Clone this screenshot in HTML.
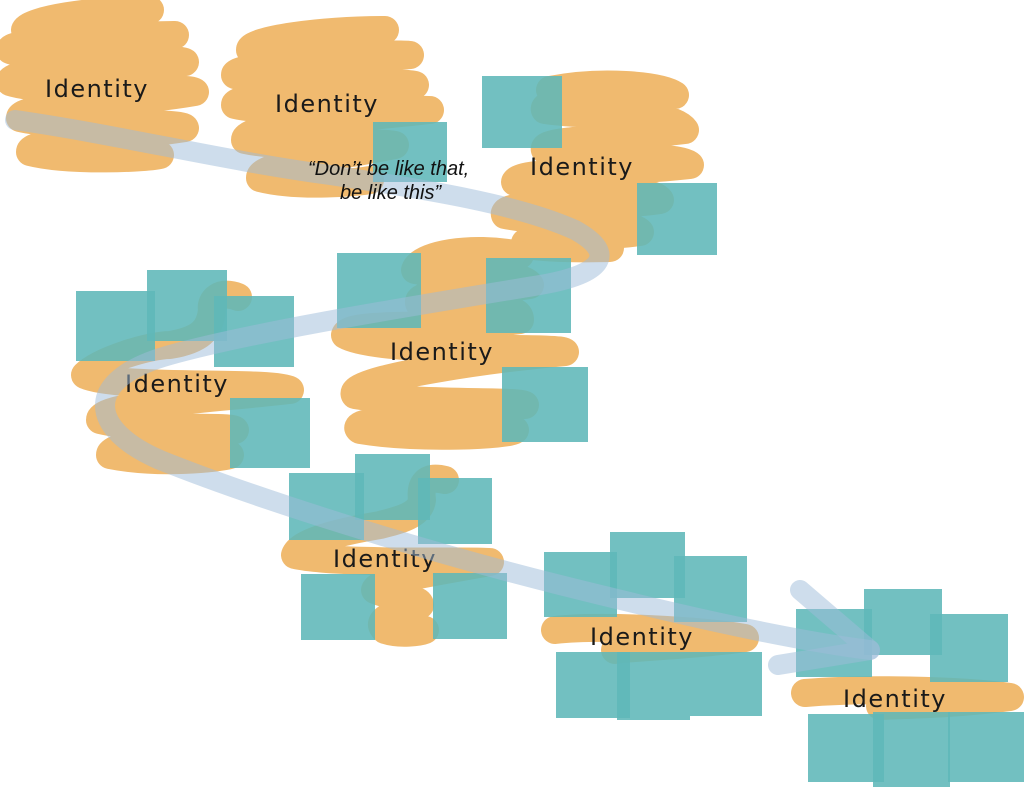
<!DOCTYPE html>
<html><head><meta charset="utf-8"><style>
html,body{margin:0;padding:0;background:#fff;width:1024px;height:787px;overflow:hidden}
svg{display:block}
.o{fill:none;stroke:#F0BA6F;stroke-width:28;stroke-linecap:round;stroke-linejoin:round}
.t{fill:#5FB7B8;fill-opacity:0.88}
.id{font-family:"DejaVu Sans","Liberation Sans",sans-serif;font-size:24px;fill:#1a1a1a;letter-spacing:1.5px}
</style></head><body>
<svg width="1024" height="787" viewBox="0 0 1024 787">
<!-- group1 -->
<path class="o" d="M150,10 C90,10 30,20 25,30 C60,40 140,35 175,35 C120,40 10,40 10,50 C30,60 170,55 185,62 C100,70 10,70 10,82 C50,95 190,85 195,92 C120,105 20,105 20,118 C60,128 180,120 185,128 C120,138 30,140 30,152 C70,162 150,158 160,155"/>
<text class="id" x="45" y="97">Identity</text>
<!-- group2 -->
<path class="o" d="M385,30 C320,30 250,40 250,50 C290,60 390,52 410,55 C330,62 235,65 235,75 C280,88 400,80 415,85 C320,95 235,95 235,105 C280,115 420,108 430,110 C340,120 245,125 245,140 C290,150 380,140 395,145 C320,160 260,165 260,178 C300,188 360,182 370,180"/>
<text class="id" x="275" y="112">Identity</text>
<rect class="t" x="373" y="122" width="74" height="60"/>
<!-- group3 -->
<path class="o" d="M550,90 C600,80 660,85 675,95 C600,100 540,100 545,110 C600,118 670,110 685,130 C600,140 540,140 545,150 C600,158 680,155 690,165 C600,175 520,170 515,182 C560,195 650,185 660,200 C590,210 500,200 505,215 C560,225 630,220 640,232 C580,240 520,235 525,245 C560,250 600,248 610,248"/>
<rect class="t" x="482" y="76" width="80" height="72"/>
<text class="id" x="530" y="175">Identity</text>
<rect class="t" x="637" y="183" width="80" height="72"/>
<!-- group4 -->
<path class="o" d="M520,255 C470,245 420,255 415,270 C460,280 520,270 530,285 C470,295 410,290 420,305 C470,315 520,300 520,320 C450,330 350,320 345,335 C380,355 560,345 565,352 C480,360 345,380 355,395 C420,405 520,400 525,405 C430,415 345,420 360,430 C420,440 510,435 515,430"/>
<rect class="t" x="337" y="253" width="84" height="75"/>
<rect class="t" x="486" y="258" width="85" height="75"/>
<text class="id" x="390" y="360">Identity</text>
<rect class="t" x="502" y="367" width="86" height="75"/>
<!-- group5 -->
<path class="o" d="M238,297 C220,290 210,300 212,310 C210,330 200,340 170,345 C150,345 100,360 85,375 C120,390 270,380 290,390 C200,400 100,405 100,420 C150,432 230,425 235,430 C160,440 110,445 110,455 C160,465 220,458 230,455"/>
<rect class="t" x="76" y="291" width="79" height="70"/>
<rect class="t" x="147" y="270" width="80" height="71"/>
<rect class="t" x="214" y="296" width="80" height="71"/>
<text class="id" x="125" y="392">Identity</text>
<rect class="t" x="230" y="398" width="80" height="70"/>
<!-- group6 -->
<path class="o" d="M445,480 C425,475 420,485 422,500 C420,515 400,520 380,525 C350,530 300,540 295,555 C340,565 480,560 490,562 C420,575 380,580 375,590 C400,600 420,598 420,605 C390,615 375,620 385,630 C400,635 420,632 425,630"/>
<rect class="t" x="289" y="473" width="75" height="67"/>
<rect class="t" x="355" y="454" width="75" height="66"/>
<rect class="t" x="418" y="478" width="74" height="66"/>
<text class="id" x="333" y="567">Identity</text>
<rect class="t" x="301" y="574" width="74" height="66"/>
<rect class="t" x="433" y="573" width="74" height="66"/>
<!-- group7 -->
<path class="o" d="M555,630 C600,625 700,630 745,638 C700,645 620,648 615,650"/>
<rect class="t" x="544" y="552" width="73" height="65"/>
<rect class="t" x="610" y="532" width="75" height="66"/>
<rect class="t" x="674" y="556" width="73" height="66"/>
<text class="id" x="590" y="645">Identity</text>
<rect class="t" x="556" y="652" width="74" height="66"/>
<rect class="t" x="617" y="652" width="73" height="68"/>
<rect class="t" x="690" y="652" width="72" height="64"/>
<!-- group8 -->
<path class="o" d="M805,693 C860,688 960,690 1010,697 C960,704 900,705 880,706"/>
<rect class="t" x="796" y="609" width="76" height="68"/>
<rect class="t" x="864" y="589" width="78" height="66"/>
<rect class="t" x="930" y="614" width="78" height="68"/>
<text class="id" x="843" y="707">Identity</text>
<rect class="t" x="808" y="714" width="76" height="68"/>
<rect class="t" x="873" y="712" width="77" height="75"/>
<rect class="t" x="948" y="712" width="76" height="70"/>
<!-- blue path -->
<g fill="none" stroke="#9DBCDA" stroke-opacity="0.5" stroke-width="20" stroke-linecap="round" stroke-linejoin="round">
<path d="M15,120 C120,135 220,160 330,175 C430,190 520,205 575,230 C620,255 600,275 540,285 C420,305 260,330 170,355 C80,380 90,430 160,460 C260,500 420,550 560,585 C680,615 790,640 870,650"/>
<path d="M800,590 L870,650 L778,665"/>
</g>
<text x="308" y="175" font-family="Liberation Sans,sans-serif" font-style="italic" font-size="20" fill="#111">“Don’t be like that,</text>
<text x="340" y="199" font-family="Liberation Sans,sans-serif" font-style="italic" font-size="20" fill="#111">be like this”</text>
</svg>
</body></html>
